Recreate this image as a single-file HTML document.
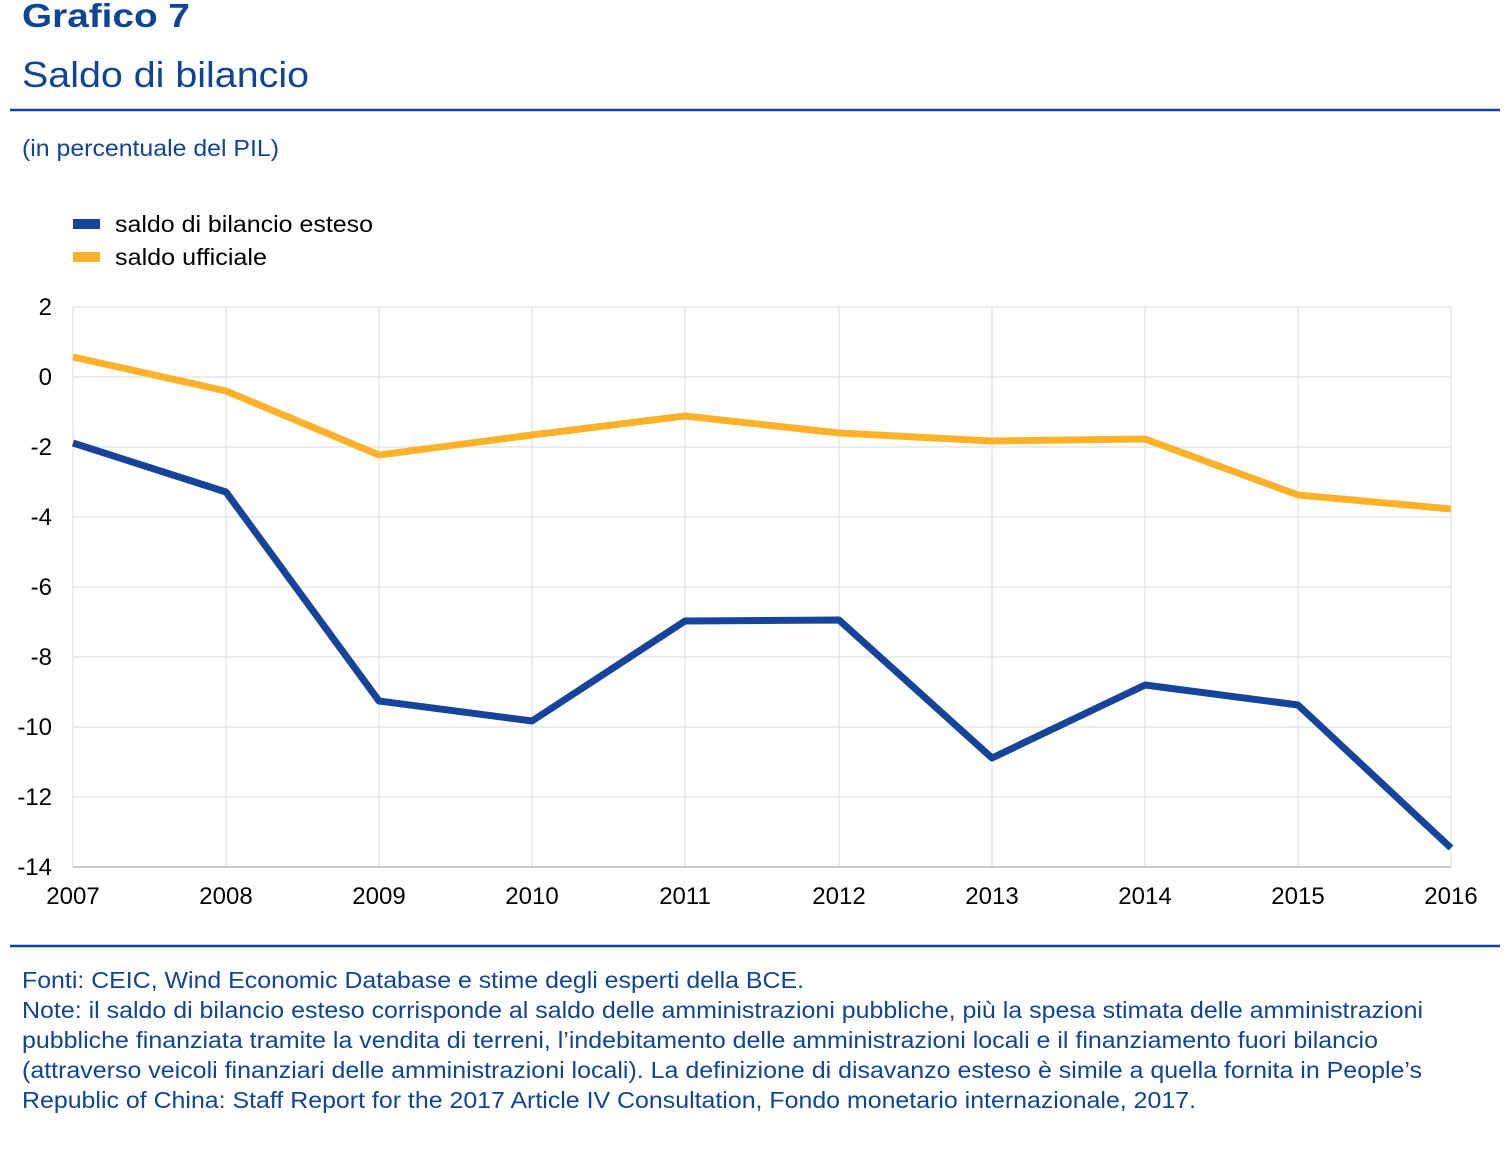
<!DOCTYPE html>
<html><head><meta charset="utf-8"><style>
body{margin:0;background:#fff;}
svg text{font-family:"Liberation Sans",Arial,sans-serif;}
</style></head><body>
<svg width="1506" height="1168" viewBox="0 0 1506 1168" xmlns="http://www.w3.org/2000/svg">
<text x="22" y="27" font-size="33" font-weight="bold" fill="#0f4497" textLength="168" lengthAdjust="spacingAndGlyphs">Grafico 7</text>
<text x="22" y="87" font-size="36" fill="#0f4497" textLength="287" lengthAdjust="spacingAndGlyphs">Saldo di bilancio</text>
<line x1="10" y1="110" x2="1500" y2="110" stroke="#0f4497" stroke-width="2.5"/>
<text x="22" y="156" font-size="23" fill="#0f4497" textLength="257" lengthAdjust="spacingAndGlyphs">(in percentuale del PIL)</text>
<rect x="73" y="219" width="27" height="10" fill="#17449b"/>
<text x="115" y="232" font-size="23" fill="#000" textLength="258" lengthAdjust="spacingAndGlyphs">saldo di bilancio esteso</text>
<rect x="73" y="252" width="27" height="10" fill="#ffb229"/>
<text x="115" y="265" font-size="23" fill="#000" textLength="152" lengthAdjust="spacingAndGlyphs">saldo ufficiale</text>
<g stroke="#d9d9d9" stroke-width="1">
<line x1="73" y1="307" x2="1451" y2="307"/><line x1="73" y1="377" x2="1451" y2="377"/>
<line x1="73" y1="447" x2="1451" y2="447"/><line x1="73" y1="517" x2="1451" y2="517"/>
<line x1="73" y1="587" x2="1451" y2="587"/><line x1="73" y1="657" x2="1451" y2="657"/>
<line x1="73" y1="727" x2="1451" y2="727"/><line x1="73" y1="797" x2="1451" y2="797"/>
<line x1="73" y1="307" x2="73" y2="867"/><line x1="226" y1="307" x2="226" y2="867"/>
<line x1="379" y1="307" x2="379" y2="867"/><line x1="532" y1="307" x2="532" y2="867"/>
<line x1="685" y1="307" x2="685" y2="867"/><line x1="839" y1="307" x2="839" y2="867"/>
<line x1="992" y1="307" x2="992" y2="867"/><line x1="1145" y1="307" x2="1145" y2="867"/>
<line x1="1298" y1="307" x2="1298" y2="867"/><line x1="1451" y1="307" x2="1451" y2="867"/>
</g>
<line x1="73" y1="867" x2="1451" y2="867" stroke="#999" stroke-width="1"/>
<g font-size="24" fill="#000" text-anchor="end">
<text x="52" y="315">2</text><text x="52" y="385">0</text><text x="52" y="455">-2</text>
<text x="52" y="525">-4</text><text x="52" y="595">-6</text><text x="52" y="665">-8</text>
<text x="52" y="735">-10</text><text x="52" y="805">-12</text><text x="52" y="875">-14</text>
</g>
<g font-size="24" fill="#000" text-anchor="middle">
<text x="73" y="904">2007</text><text x="226" y="904">2008</text><text x="379" y="904">2009</text>
<text x="532" y="904">2010</text><text x="685" y="904">2011</text><text x="839" y="904">2012</text>
<text x="992" y="904">2013</text><text x="1145" y="904">2014</text><text x="1298" y="904">2015</text>
<text x="1451" y="904">2016</text>
</g>
<polyline fill="none" stroke="#ffb229" stroke-width="7" stroke-linejoin="round" points="73,357 226,391 379,455 532,435 685,416 839,433 992,441 1145,439 1298,495 1451,509"/>
<polyline fill="none" stroke="#17449b" stroke-width="7" stroke-linejoin="round" points="73,443 226,492 379,701 532,721 685,621 839,620 992,758 1145,685 1298,705 1451,848"/>
<line x1="10" y1="946" x2="1500" y2="946" stroke="#0f4497" stroke-width="2.5"/>
<g font-size="23" fill="#0f4497" lengthAdjust="spacingAndGlyphs">
<text x="22" y="988" textLength="782" lengthAdjust="spacingAndGlyphs">Fonti: CEIC, Wind Economic Database e stime degli esperti della BCE.</text>
<text x="22" y="1018" textLength="1401" lengthAdjust="spacingAndGlyphs">Note: il saldo di bilancio esteso corrisponde al saldo delle amministrazioni pubbliche, più la spesa stimata delle amministrazioni</text>
<text x="22" y="1048" textLength="1356" lengthAdjust="spacingAndGlyphs">pubbliche finanziata tramite la vendita di terreni, l’indebitamento delle amministrazioni locali e il finanziamento fuori bilancio</text>
<text x="22" y="1078" textLength="1400" lengthAdjust="spacingAndGlyphs">(attraverso veicoli finanziari delle amministrazioni locali). La definizione di disavanzo esteso è simile a quella fornita in People’s</text>
<text x="22" y="1108" textLength="1174" lengthAdjust="spacingAndGlyphs">Republic of China: Staff Report for the 2017 Article IV Consultation, Fondo monetario internazionale, 2017.</text>
</g>
</svg>
</body></html>
